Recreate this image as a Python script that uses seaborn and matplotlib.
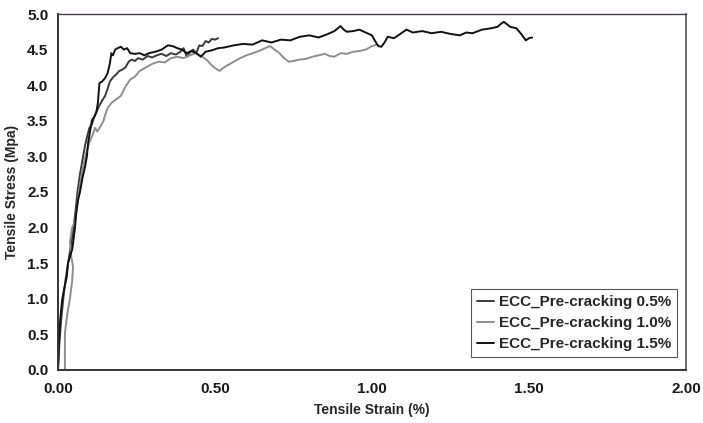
import matplotlib
matplotlib.use("Agg")
import matplotlib.pyplot as plt
import seaborn as sns
import pandas as pd

# ---------------- data ----------------
strain_05 = [0.000, 0.004, 0.010, 0.018, 0.025, 0.032, 0.040, 0.048, 0.055, 0.062,
             0.070, 0.078, 0.086, 0.094, 0.100, 0.108, 0.115, 0.122, 0.130, 0.140,
             0.150, 0.158, 0.165, 0.175, 0.185, 0.195, 0.205, 0.215, 0.225, 0.235,
             0.245, 0.255, 0.270, 0.285, 0.300, 0.315, 0.330, 0.345, 0.360, 0.375,
             0.390, 0.400, 0.410, 0.420, 0.430, 0.440, 0.450, 0.460, 0.470, 0.480,
             0.490, 0.500, 0.510]
stress_05 = [0.00, 0.35, 0.70, 1.05, 1.30, 1.50, 1.72, 1.95, 2.20, 2.50,
             2.75, 2.95, 3.15, 3.30, 3.40, 3.45, 3.55, 3.62, 3.70, 3.78,
             3.85, 3.95, 4.05, 4.11, 4.15, 4.20, 4.22, 4.25, 4.33, 4.36,
             4.34, 4.38, 4.36, 4.41, 4.39, 4.42, 4.44, 4.41, 4.45, 4.43,
             4.47, 4.52, 4.40, 4.46, 4.50, 4.45, 4.56, 4.55, 4.62, 4.60,
             4.65, 4.64, 4.66]

strain_10 = [0.022, 0.022, 0.022, 0.030, 0.038, 0.045, 0.048, 0.042, 0.038, 0.045,
             0.055, 0.062, 0.070, 0.080, 0.090, 0.100, 0.110, 0.118, 0.125, 0.135,
             0.145, 0.150, 0.158, 0.170, 0.185, 0.200, 0.215, 0.230, 0.245, 0.260,
             0.280, 0.300, 0.320, 0.340, 0.360, 0.380, 0.400, 0.420, 0.440, 0.460,
             0.475, 0.485, 0.500, 0.515, 0.525, 0.540, 0.560, 0.580, 0.600, 0.620,
             0.640, 0.660, 0.675, 0.690, 0.705, 0.720, 0.735, 0.750, 0.770, 0.790,
             0.810, 0.830, 0.850, 0.865, 0.880, 0.900, 0.920, 0.940, 0.960, 0.980,
             1.000, 1.015]
stress_10 = [0.00, 0.25, 0.52, 0.80, 1.00, 1.25, 1.45, 1.60, 1.80, 2.00,
             2.10, 2.35, 2.60, 2.85, 3.05, 3.20, 3.30, 3.40, 3.35, 3.42,
             3.50, 3.58, 3.68, 3.75, 3.80, 3.85, 3.98, 4.08, 4.12, 4.20,
             4.25, 4.30, 4.33, 4.32, 4.38, 4.40, 4.38, 4.42, 4.45, 4.40,
             4.35, 4.30, 4.24, 4.20, 4.24, 4.28, 4.33, 4.38, 4.42, 4.45,
             4.48, 4.52, 4.55, 4.50, 4.45, 4.38, 4.33, 4.34, 4.36, 4.37,
             4.40, 4.42, 4.44, 4.41, 4.40, 4.45, 4.44, 4.47, 4.48, 4.50,
             4.55, 4.57]

strain_15 = [0.000, 0.004, 0.008, 0.013, 0.020, 0.028, 0.032, 0.040, 0.045, 0.050,
             0.054, 0.058, 0.064, 0.070, 0.078, 0.086, 0.092, 0.096, 0.102, 0.108,
             0.115, 0.122, 0.127, 0.132, 0.140, 0.150, 0.158, 0.165, 0.170, 0.175,
             0.182, 0.190, 0.200, 0.210, 0.220, 0.230, 0.245, 0.260, 0.275, 0.290,
             0.310, 0.330, 0.350, 0.365, 0.380, 0.395, 0.410, 0.425, 0.440, 0.455,
             0.470, 0.490, 0.510, 0.530, 0.560, 0.590, 0.620, 0.650, 0.680, 0.710,
             0.740, 0.770, 0.800, 0.830, 0.860, 0.880, 0.900, 0.910, 0.920, 0.940,
             0.960, 0.980, 1.000, 1.010, 1.020, 1.030, 1.040, 1.050, 1.070, 1.090,
             1.110, 1.130, 1.160, 1.190, 1.220, 1.250, 1.280, 1.300, 1.320, 1.350,
             1.380, 1.400, 1.410, 1.420, 1.440, 1.460, 1.475, 1.490, 1.500, 1.510]
stress_15 = [0.00, 0.52, 0.75, 0.98, 1.15, 1.31, 1.50, 1.62, 1.69, 1.85,
             2.00, 2.20, 2.39, 2.50, 2.70, 2.85, 3.00, 3.19, 3.35, 3.51,
             3.55, 3.62, 3.75, 4.03, 4.05, 4.10, 4.17, 4.30, 4.45, 4.42,
             4.50, 4.52, 4.54, 4.50, 4.52, 4.45, 4.44, 4.45, 4.42, 4.45,
             4.47, 4.50, 4.56, 4.55, 4.52, 4.50, 4.45, 4.48, 4.45, 4.40,
             4.47, 4.49, 4.52, 4.53, 4.56, 4.58, 4.57, 4.63, 4.60, 4.64,
             4.63, 4.68, 4.70, 4.67, 4.72, 4.76, 4.83, 4.78, 4.75, 4.76,
             4.78, 4.74, 4.70, 4.62, 4.55, 4.54, 4.60, 4.68, 4.66, 4.72,
             4.78, 4.74, 4.76, 4.73, 4.75, 4.72, 4.70, 4.74, 4.73, 4.78,
             4.80, 4.82, 4.86, 4.89, 4.82, 4.80, 4.72, 4.63, 4.66, 4.67]

series_names = ["ECC_Pre-cracking 0.5%", "ECC_Pre-cracking 1.0%", "ECC_Pre-cracking 1.5%"]
x_ticks = [0.00, 0.50, 1.00, 1.50, 2.00]
y_ticks = [0.0, 0.5, 1.0, 1.5, 2.0, 2.5, 3.0, 3.5, 4.0, 4.5, 5.0]

# ---------------- figure ----------------
sns.set_style("white")
plt.rcParams["font.family"] = ["Liberation Sans", "DejaVu Sans"]
plt.rcParams["font.weight"] = "bold"

fig = plt.figure(figsize=(7.03, 4.23), dpi=100)
ax = fig.add_axes([0.0825, 0.1253, 0.8933, 0.8416])

frames = []
for name, xs, ys in zip(series_names, [strain_05, strain_10, strain_15],
                        [stress_05, stress_10, stress_15]):
    frames.append(pd.DataFrame({"strain": xs, "stress": ys, "series": name}))
df = pd.concat(frames, ignore_index=True)

palette = {series_names[0]: "#3a3a3a", series_names[1]: "#8e8e8e", series_names[2]: "#111111"}
for name in series_names:
    sub = df[df["series"] == name]
    sns.lineplot(data=sub, x="strain", y="stress", sort=False, estimator=None,
                 color=palette[name], linewidth=1.4, ax=ax, label=name)

ax.set_xlim(0, 2.0)
ax.set_ylim(0, 5.0)
ax.set_xticks(x_ticks)
ax.set_xticklabels([f"{v:.2f}" for v in x_ticks])
ax.set_yticks(y_ticks)
ax.set_yticklabels([f"{v:.1f}" for v in y_ticks])
ax.tick_params(axis="x", direction="in", length=4, width=0.8, color="#777777",
               labelsize=11, pad=9)
ax.tick_params(axis="y", direction="out", length=4, width=0.8, color="#555555",
               labelsize=11, pad=3)
for lab in ax.get_xticklabels() + ax.get_yticklabels():
    lab.set_fontweight("bold")
    lab.set_color("#1a1a1a")

ax.set_xlabel("Tensile Strain (%)", fontsize=10, fontweight="bold", labelpad=5)
ax.set_ylabel("Tensile Stress (Mpa)", fontsize=10, fontweight="bold", labelpad=6)

for side in ["left", "bottom"]:
    ax.spines[side].set_color("#333333")
    ax.spines[side].set_linewidth(1.4)
ax.spines["top"].set_color("#4a3a5a")
ax.spines["top"].set_linewidth(1.0)
ax.spines["right"].set_color("#555555")
ax.spines["right"].set_linewidth(1.2)

leg = ax.legend(loc="lower right", bbox_to_anchor=(0.9857, 0.0365), frameon=True,
                fancybox=False, edgecolor="#555555", framealpha=1,
                prop={"weight": "bold", "size": 11}, handlelength=1.1,
                handletextpad=0.3, borderpad=0.4, labelspacing=0.45,
                borderaxespad=0.0)
leg.get_frame().set_linewidth(0.8)

fig.savefig("out.png", dpi=100)
